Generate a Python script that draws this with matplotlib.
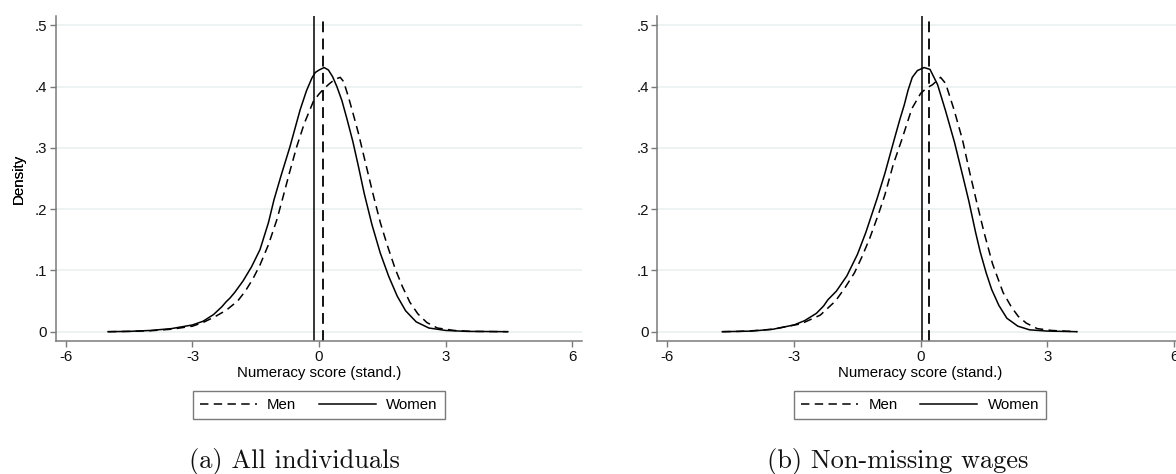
import matplotlib
matplotlib.use("Agg")
import matplotlib.pyplot as plt

plt.rcParams['font.family'] = ['Liberation Sans', 'DejaVu Sans']

# ---------------- data ----------------
x_ticks = [-6, -3, 0, 3, 6]
x_tick_labels = ["-6", "-3", "0", "3", "6"]
y_ticks = [0, 0.1, 0.2, 0.3, 0.4, 0.5]
y_tick_labels = ["0", ".1", ".2", ".3", ".4", ".5"]

# Panel (a): all individuals
women_x_a = [-5.0, -4.5, -4.0, -3.5, -3.0, -2.75, -2.5, -2.3, -2.2, -2.11, -2.0, -1.8, -1.6,
             -1.4, -1.2, -1.07, -0.9, -0.69, -0.45, -0.3, -0.17, -0.09, 0.0, 0.12, 0.22,
             0.32, 0.42, 0.54, 0.66, 0.8, 0.93, 1.07, 1.25, 1.45, 1.65, 1.85, 2.05, 2.3,
             2.6, 3.0, 3.5, 4.47]
women_y_a = [0.0, 0.0005, 0.002, 0.005, 0.011, 0.017, 0.028, 0.041, 0.049, 0.055, 0.064, 0.083,
             0.106, 0.134, 0.178, 0.215, 0.255, 0.302, 0.362, 0.393, 0.414, 0.423, 0.427, 0.431,
             0.427, 0.416, 0.4, 0.377, 0.347, 0.31, 0.27, 0.225, 0.175, 0.128, 0.09, 0.058,
             0.034, 0.016, 0.006, 0.002, 0.0005, 0.0]
men_x_a = [-5.0, -4.5, -4.0, -3.5, -3.0, -2.75, -2.48, -2.2, -1.93, -1.75, -1.57, -1.4, -1.2,
           -1.0, -0.85, -0.7, -0.53, -0.35, -0.135, 0.0, 0.12, 0.25, 0.38, 0.5, 0.58, 0.69,
           0.8, 0.93, 1.1, 1.29, 1.45, 1.61, 1.8, 1.97, 2.15, 2.34, 2.55, 2.8, 3.2, 3.6, 4.47]
men_y_a = [0.0, 0.0005, 0.0015, 0.004, 0.009, 0.015, 0.024, 0.035, 0.05, 0.066, 0.086, 0.109,
           0.142, 0.183, 0.221, 0.26, 0.302, 0.34, 0.376, 0.388, 0.397, 0.405, 0.412, 0.415,
           0.408, 0.384, 0.357, 0.324, 0.275, 0.221, 0.178, 0.142, 0.103, 0.074, 0.048,
           0.029, 0.015, 0.006, 0.002, 0.0005, 0.0]
women_mean_a = -0.11
men_mean_a = 0.10

# Panel (b): non-missing wages
women_x_b = [-4.7, -4.3, -4.0, -3.5, -3.0, -2.75, -2.47, -2.3, -2.2, -2.0, -1.75, -1.5, -1.3,
             -1.03, -0.85, -0.63, -0.5, -0.39, -0.3, -0.2, -0.08, 0.08, 0.22, 0.4, 0.59, 0.8,
             1.0, 1.14, 1.3, 1.41, 1.55, 1.68, 1.85, 2.04, 2.3, 2.58, 3.0, 3.7]
women_y_b = [0.0, 0.0005, 0.001, 0.004, 0.011, 0.018, 0.03, 0.042, 0.052, 0.066, 0.091, 0.126,
             0.162, 0.218, 0.258, 0.313, 0.345, 0.37, 0.394, 0.415, 0.426, 0.431, 0.428, 0.403,
             0.36, 0.309, 0.253, 0.213, 0.162, 0.13, 0.096, 0.069, 0.043, 0.022, 0.009,
             0.003, 0.001, 0.0]
men_x_b = [-4.7, -4.3, -4.0, -3.5, -2.83, -2.38, -2.02, -1.8, -1.57, -1.4, -1.21, -1.0, -0.85,
           -0.65, -0.45, -0.21, 0.0, 0.15, 0.28, 0.47, 0.59, 0.79, 0.99, 1.15, 1.32, 1.5, 1.7,
           1.95, 2.15, 2.31, 2.5, 2.76, 3.1, 3.7]
men_y_b = [0.0, 0.0005, 0.0015, 0.004, 0.013, 0.027, 0.05, 0.071, 0.096, 0.121, 0.152, 0.192,
           0.223, 0.273, 0.313, 0.364, 0.389, 0.398, 0.403, 0.415, 0.405, 0.362, 0.313, 0.263,
           0.213, 0.162, 0.111, 0.064, 0.04, 0.025, 0.014, 0.005, 0.002, 0.0]
women_mean_b = 0.04
men_mean_b = 0.20

panels = [
    dict(women_x=women_x_a, women_y=women_y_a, men_x=men_x_a, men_y=men_y_a,
         women_mean=women_mean_a, men_mean=men_mean_a, caption="(a) All individuals"),
    dict(women_x=women_x_b, women_y=women_y_b, men_x=men_x_b, men_y=men_y_b,
         women_mean=women_mean_b, men_mean=men_mean_b, caption="(b) Non-missing wages"),
]

# ---------------- layout ----------------
W, H = 1176, 474
fig = plt.figure(figsize=(W / 100, H / 100), dpi=100)

ax_left_px = [55.7, 657.3]
ax_w_px = 526.0
ax_top_px, ax_bot_px = 16.0, 341.0
caption_cx_px = [294.7, 897.6]

spine_col = '#7a7a7a'
grid_col = '#e8efef'
fs = 10.8
dash = (5.5, 3.5)

for i, p in enumerate(panels):
    ax = fig.add_axes([ax_left_px[i] / W, 1 - ax_bot_px / H, ax_w_px / W,
                       (ax_bot_px - ax_top_px) / H])
    ax.set_xlim(-6.24, 6.22)
    ax.set_ylim(-0.0152, 0.5151)
    for s in ['top', 'right']:
        ax.spines[s].set_visible(False)
    for s in ['left', 'bottom']:
        ax.spines[s].set_color(spine_col)
        ax.spines[s].set_linewidth(1.1)
    ax.set_xticks(x_ticks)
    ax.set_xticklabels(x_tick_labels)
    ax.set_yticks(y_ticks)
    ax.set_yticklabels(y_tick_labels)
    ax.tick_params(axis='both', colors=spine_col, labelcolor='#111111', labelsize=fs,
                   length=4.2, width=1.0)
    ax.tick_params(axis='y', pad=1.8)
    ax.tick_params(axis='x', pad=2.0)
    for yv in y_ticks:
        ax.axhline(yv, color=grid_col, lw=1.1, zorder=0)

    ln_m, = ax.plot(p['men_x'], p['men_y'], color='black', lw=1.1, dashes=dash, label='Men')
    ln_w, = ax.plot(p['women_x'], p['women_y'], color='black', lw=1.1, label='Women')
    ax.axvline(p['women_mean'], color='black', lw=1.1)
    ax.axvline(p['men_mean'], color='black', lw=1.3, dashes=(6, 3.5))

    ax.set_ylabel('Density', fontsize=fs)
    ax.yaxis.set_label_coords((26 - ax_left_px[i]) / ax_w_px, 0.5)
    ax.set_xlabel('Numeracy score (stand.)', fontsize=fs)
    ax.xaxis.set_label_coords(0.5, (ax_bot_px - 366) / (ax_bot_px - ax_top_px))

    leg = ax.legend(handles=[ln_m, ln_w], loc='center', ncol=2,
                    bbox_to_anchor=(0.5, (ax_bot_px - 405) / (ax_bot_px - ax_top_px)),
                    fontsize=fs, frameon=True, fancybox=False, handlelength=3.8,
                    handletextpad=0.7, columnspacing=1.5, borderpad=0.45)
    fr = leg.get_frame()
    fr.set_edgecolor(spine_col)
    fr.set_linewidth(1.0)
    fr.set_alpha(1)

    fig.text(caption_cx_px[i] / W, 1 - 468 / H, p['caption'], family='cmr10',
             fontsize=19, ha='center', va='baseline', color='#111111')

fig.savefig('out.png', dpi=100)
